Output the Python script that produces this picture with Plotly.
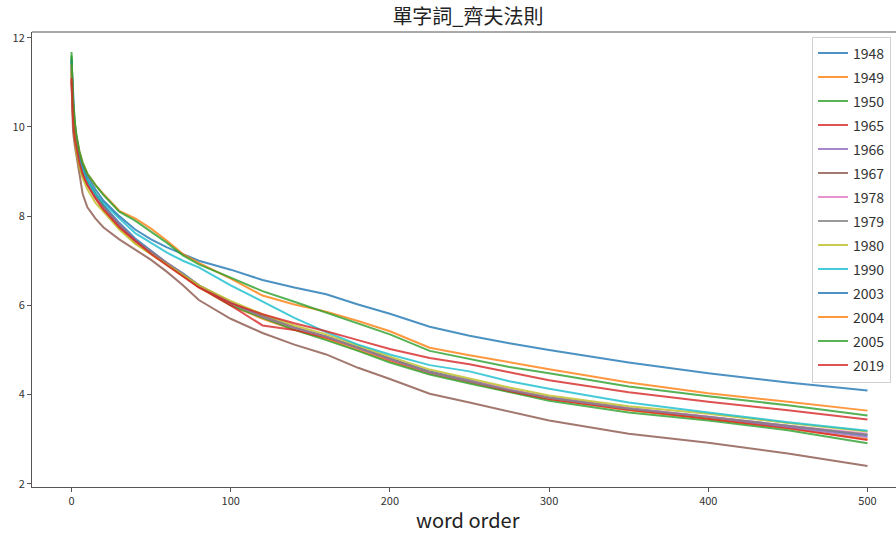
import plotly.graph_objects as go

# word order positions where values were read
word_order = [0, 1, 2, 3, 5, 7, 10, 15, 20, 30, 40, 50, 60, 70, 80, 100, 120, 140,
              160, 180, 200, 225, 250, 275, 300, 350, 400, 450, 500]

years = ["1948", "1949", "1950", "1965", "1966", "1967", "1978", "1979",
         "1980", "1990", "2003", "2004", "2005", "2019"]

y1948 = [11.55, 10.4, 10.0, 9.7, 9.3, 9.05, 8.8, 8.5, 8.25, 7.85, 7.5, 7.22, 6.95, 6.72, 6.45, 6.05, 5.78, 5.5, 5.3, 5.05, 4.8, 4.52, 4.32, 4.1, 3.93, 3.68, 3.5, 3.3, 3.09]
y1949 = [11.2, 10.3, 9.85, 9.55, 9.2, 8.95, 8.7, 8.4, 8.15, 7.75, 7.4, 7.15, 6.9, 6.65, 6.4, 6.0, 5.7, 5.45, 5.25, 5.0, 4.75, 4.47, 4.27, 4.07, 3.9, 3.65, 3.45, 3.24, 3.0]
y1950 = [11.68, 10.5, 10.05, 9.7, 9.3, 9.05, 8.8, 8.5, 8.22, 7.8, 7.45, 7.18, 6.92, 6.68, 6.42, 6.0, 5.72, 5.45, 5.22, 4.98, 4.72, 4.45, 4.25, 4.05, 3.86, 3.6, 3.42, 3.2, 2.91]
y1965 = [11.05, 10.2, 9.8, 9.5, 9.15, 8.9, 8.7, 8.45, 8.2, 7.8, 7.45, 7.2, 6.95, 6.68, 6.42, 6.0, 5.55, 5.45, 5.28, 5.05, 4.78, 4.5, 4.3, 4.08, 3.9, 3.66, 3.46, 3.25, 2.98]
y1966 = [11.3, 10.3, 9.9, 9.6, 9.25, 9.0, 8.75, 8.45, 8.2, 7.82, 7.46, 7.2, 6.95, 6.7, 6.45, 6.07, 5.75, 5.5, 5.3, 5.05, 4.8, 4.5, 4.3, 4.1, 3.94, 3.7, 3.5, 3.28, 3.05]
y1967 = [11.0, 9.9, 9.6, 9.4, 8.95, 8.5, 8.2, 7.95, 7.75, 7.48, 7.25, 7.02, 6.75, 6.45, 6.12, 5.7, 5.38, 5.12, 4.9, 4.6, 4.35, 4.02, 3.82, 3.62, 3.42, 3.12, 2.92, 2.68, 2.40]
y1978 = [11.2, 10.25, 9.85, 9.58, 9.22, 8.97, 8.72, 8.42, 8.18, 7.78, 7.44, 7.19, 6.94, 6.7, 6.45, 6.05, 5.75, 5.5, 5.3, 5.04, 4.79, 4.5, 4.31, 4.11, 3.93, 3.69, 3.51, 3.3, 3.12]
y1979 = [11.35, 10.35, 9.9, 9.6, 9.25, 9.0, 8.75, 8.45, 8.2, 7.8, 7.45, 7.2, 6.95, 6.7, 6.45, 6.05, 5.75, 5.5, 5.3, 5.05, 4.8, 4.5, 4.3, 4.1, 3.93, 3.68, 3.5, 3.3, 3.1]
y1980 = [11.25, 10.2, 9.75, 9.45, 9.1, 8.85, 8.6, 8.3, 8.1, 7.7, 7.38, 7.15, 6.92, 6.68, 6.45, 6.1, 5.8, 5.55, 5.35, 5.1, 4.85, 4.56, 4.36, 4.16, 3.98, 3.74, 3.57, 3.36, 3.17]
y1990 = [11.45, 10.5, 10.0, 9.75, 9.3, 9.05, 8.8, 8.5, 8.3, 7.95, 7.62, 7.4, 7.18, 7.0, 6.85, 6.45, 6.08, 5.72, 5.4, 5.12, 4.9, 4.66, 4.52, 4.3, 4.13, 3.82, 3.6, 3.38, 3.19]
y2003 = [11.5, 10.6, 10.1, 9.8, 9.4, 9.15, 8.9, 8.6, 8.35, 8.0, 7.7, 7.48, 7.3, 7.15, 7.0, 6.8, 6.57, 6.4, 6.25, 6.02, 5.81, 5.52, 5.32, 5.15, 5.0, 4.72, 4.48, 4.27, 4.09]
y2004 = [11.4, 10.5, 10.1, 9.8, 9.45, 9.2, 8.95, 8.7, 8.5, 8.12, 7.95, 7.72, 7.45, 7.15, 6.95, 6.6, 6.22, 6.02, 5.86, 5.65, 5.42, 5.05, 4.88, 4.72, 4.57, 4.27, 4.03, 3.84, 3.64]
y2005 = [11.6, 10.6, 10.15, 9.85, 9.45, 9.2, 8.95, 8.7, 8.48, 8.1, 7.9, 7.65, 7.4, 7.12, 6.92, 6.62, 6.32, 6.08, 5.84, 5.6, 5.35, 4.98, 4.8, 4.62, 4.48, 4.18, 3.96, 3.76, 3.53]
y2019 = [11.1, 10.1, 9.75, 9.55, 9.2, 8.95, 8.7, 8.4, 8.15, 7.75, 7.45, 7.15, 6.9, 6.65, 6.4, 6.05, 5.8, 5.6, 5.42, 5.22, 5.02, 4.82, 4.68, 4.5, 4.32, 4.05, 3.84, 3.65, 3.44]

series = [y1948, y1949, y1950, y1965, y1966, y1967, y1978, y1979,
          y1980, y1990, y2003, y2004, y2005, y2019]

colors = ["#1f77b4", "#ff7f0e", "#2ca02c", "#d62728", "#9467bd", "#8c564b",
          "#e377c2", "#7f7f7f", "#bcbd22", "#17becf"]

FONT = "Noto Sans CJK TC"

fig = go.Figure()
for i, (name, vals) in enumerate(zip(years, series)):
    fig.add_trace(go.Scatter(
        x=word_order, y=vals, mode="lines", name=name,
        legendgroup=name,
        line=dict(color=colors[i % 10], width=2),
        opacity=0.8,
    ))

fig.update_layout(
    width=896, height=533,
    margin=dict(l=32, r=0, t=32, b=46),
    plot_bgcolor="white", paper_bgcolor="white",
    font=dict(family=FONT, color="#333333"),
    title=dict(text="單字詞_齊夫法則", font=dict(size=20, family=FONT, color="#222222"),
               x=0.5046, xref="paper", xanchor="center",
               y=1 - 17 / 533, yref="container", yanchor="middle"),
    xaxis=dict(range=[-24.8, 517.9], tickvals=[0, 100, 200, 300, 400, 500],
               showgrid=False, zeroline=False, showline=True, linecolor="#555555",
               linewidth=1, ticks="outside", ticklen=4, tickcolor="#555555",
               tickfont=dict(size=11, family=FONT, color="#333333")),
    yaxis=dict(range=[1.928, 12.128], tickvals=[2, 4, 6, 8, 10, 12],
               showgrid=False, zeroline=False, showline=True, linecolor="#555555",
               linewidth=1, ticks="outside", ticklen=4, tickcolor="#555555",
               tickfont=dict(size=11, family=FONT, color="#333333")),
    legend=dict(x=0.9028, y=0.9901, xanchor="left", yanchor="top",
                bgcolor="rgba(255,255,255,0.85)", bordercolor="#d0d0d0", borderwidth=1,
                font=dict(size=14, family=FONT, color="#333333"),
                tracegroupgap=2.8, entrywidth=100, entrywidthmode="pixels"),
    showlegend=True,
)

fig.add_shape(type="line", xref="paper", yref="paper", x0=0, x1=1, y0=1, y1=1,
              line=dict(color="#555555", width=1))

fig.add_annotation(text="word order", xref="paper", yref="paper",
                   x=0.5046, y=-(519 - 487) / 455, xanchor="center", yanchor="middle",
                   showarrow=False, font=dict(size=20, family=FONT, color="#222222"))

fig.write_html("out.html")
